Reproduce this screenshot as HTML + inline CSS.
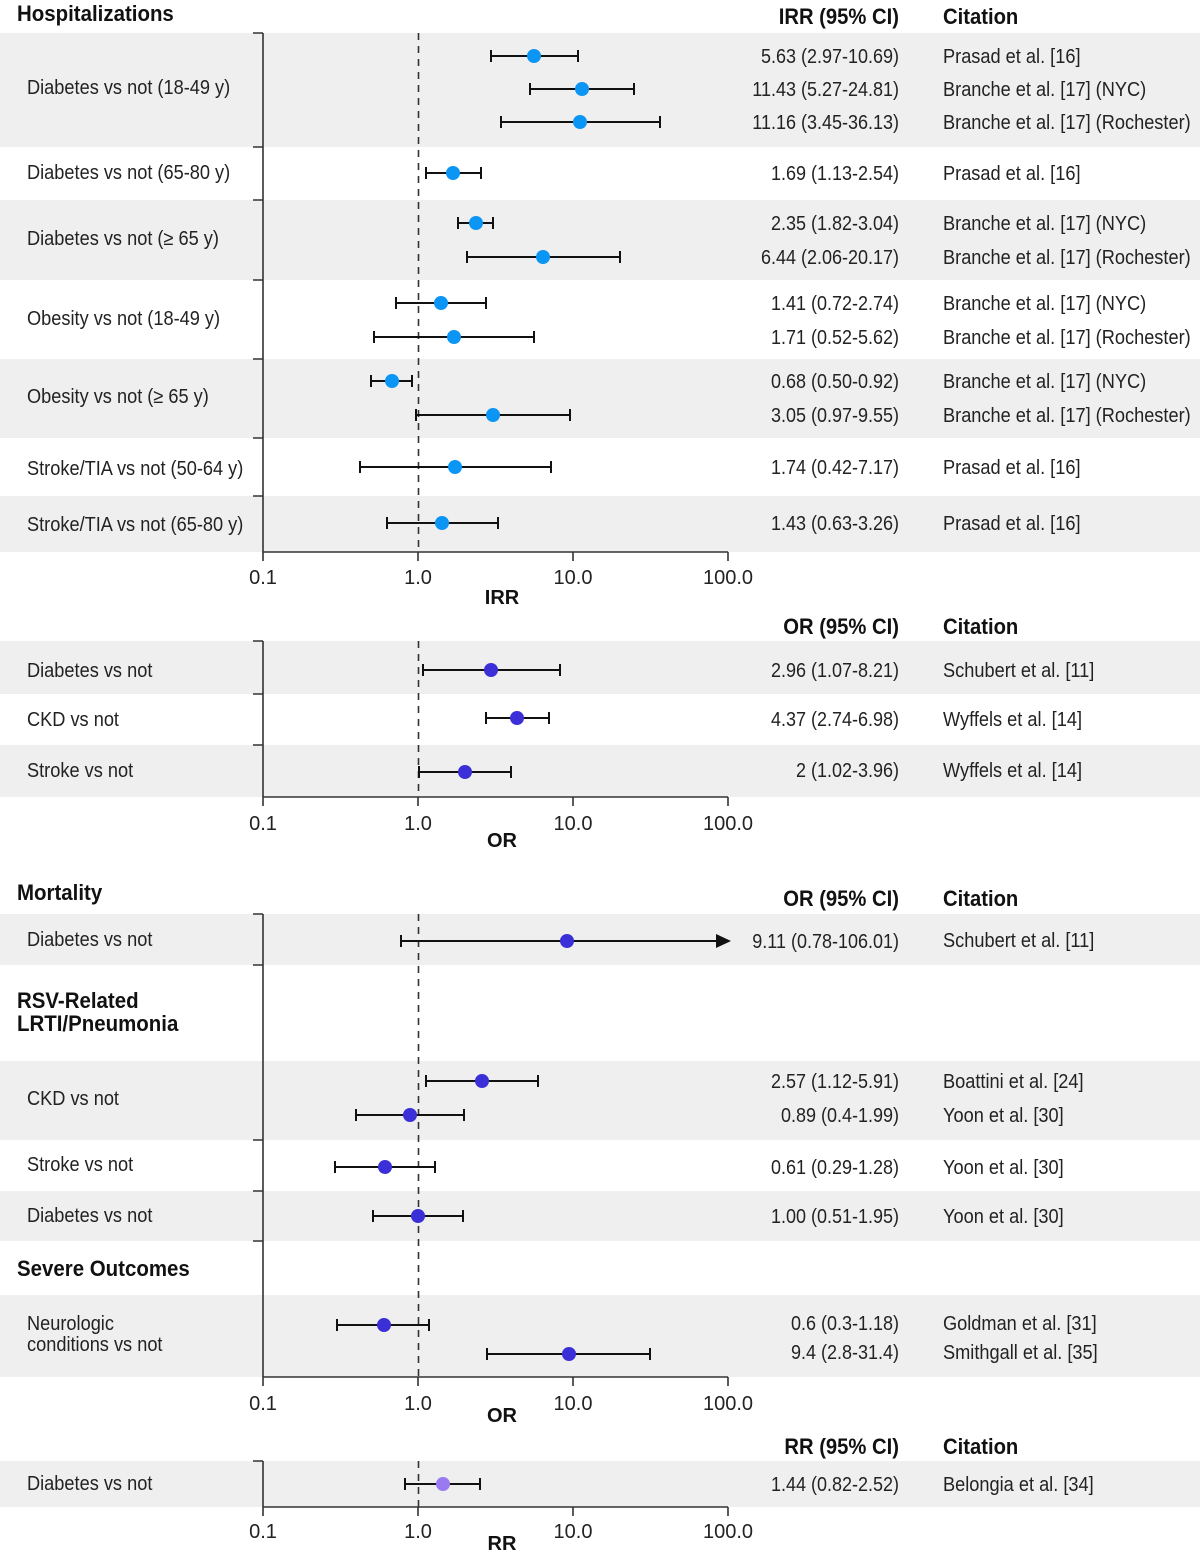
<!DOCTYPE html>
<html><head><meta charset="utf-8"><style>
html,body{margin:0;padding:0;background:#fff}
svg{display:block}
text{font-family:"Liberation Sans Narrow","Liberation Sans",sans-serif;font-size:20px;fill:#222}
.b{font-weight:bold;fill:#111;font-size:22px}
.r{text-anchor:end}
.m{text-anchor:middle}
.t{font-size:19px;fill:#333}
.eb{stroke:#111;stroke-width:2;fill:none}
.ax{stroke:#333;stroke-width:1.6;fill:none}
.d{stroke:#333;stroke-width:1.6;stroke-dasharray:7,6}
</style></head><body>
<svg width="1200" height="1557" viewBox="0 0 1200 1557" xmlns="http://www.w3.org/2000/svg">
<g fill="#efefef">
<rect x="0" y="33" width="1200" height="114"/>
<rect x="0" y="200" width="1200" height="80"/>
<rect x="0" y="359" width="1200" height="79"/>
<rect x="0" y="496" width="1200" height="56"/>
<rect x="0" y="641" width="1200" height="53"/>
<rect x="0" y="745" width="1200" height="52"/>
<rect x="0" y="914" width="1200" height="51"/>
<rect x="0" y="1061" width="1200" height="79"/>
<rect x="0" y="1191" width="1200" height="50"/>
<rect x="0" y="1295" width="1200" height="82"/>
<rect x="0" y="1461" width="1200" height="46"/>
</g>

<g transform="translate(17,0) scale(0.93,1)">
<text x="0" y="21" class="b">Hospitalizations</text>
<text x="0" y="900" class="b">Mortality</text>
<text x="0" y="1008" class="b">RSV-Related</text>
<text x="0" y="1031" class="b">LRTI/Pneumonia</text>
<text x="0" y="1276" class="b">Severe Outcomes</text>
</g>
<g transform="translate(899,0) scale(0.92,1)">
<text x="0" y="24" class="b r">IRR (95% CI)</text>
<text x="0" y="634" class="b r">OR (95% CI)</text>
<text x="0" y="906" class="b r">OR (95% CI)</text>
<text x="0" y="1454" class="b r">RR (95% CI)</text>
</g>
<g transform="translate(943,0) scale(0.92,1)">
<text x="0" y="24" class="b">Citation</text>
<text x="0" y="634" class="b">Citation</text>
<text x="0" y="906" class="b">Citation</text>
<text x="0" y="1454" class="b">Citation</text>
</g>

<g transform="translate(27,0) scale(0.91,1)">
<text x="0" y="94">Diabetes vs not (18-49 y)</text>
<text x="0" y="179">Diabetes vs not (65-80 y)</text>
<text x="0" y="245">Diabetes vs not (≥ 65 y)</text>
<text x="0" y="325">Obesity vs not (18-49 y)</text>
<text x="0" y="403">Obesity vs not (≥ 65 y)</text>
<text x="0" y="475">Stroke/TIA vs not (50-64 y)</text>
<text x="0" y="531">Stroke/TIA vs not (65-80 y)</text>
<text x="0" y="677">Diabetes vs not</text>
<text x="0" y="726">CKD vs not</text>
<text x="0" y="777">Stroke vs not</text>
<text x="0" y="946">Diabetes vs not</text>
<text x="0" y="1105">CKD vs not</text>
<text x="0" y="1171">Stroke vs not</text>
<text x="0" y="1222">Diabetes vs not</text>
<text x="0" y="1330">Neurologic</text>
<text x="0" y="1351">conditions vs not</text>
<text x="0" y="1490">Diabetes vs not</text>
</g>

<g transform="translate(899,0) scale(0.9,1)">
<text x="0" y="63" class="r">5.63 (2.97-10.69)</text>
<text x="0" y="96" class="r">11.43 (5.27-24.81)</text>
<text x="0" y="129" class="r">11.16 (3.45-36.13)</text>
<text x="0" y="180" class="r">1.69 (1.13-2.54)</text>
<text x="0" y="230" class="r">2.35 (1.82-3.04)</text>
<text x="0" y="264" class="r">6.44 (2.06-20.17)</text>
<text x="0" y="310" class="r">1.41 (0.72-2.74)</text>
<text x="0" y="344" class="r">1.71 (0.52-5.62)</text>
<text x="0" y="388" class="r">0.68 (0.50-0.92)</text>
<text x="0" y="422" class="r">3.05 (0.97-9.55)</text>
<text x="0" y="474" class="r">1.74 (0.42-7.17)</text>
<text x="0" y="530" class="r">1.43 (0.63-3.26)</text>
<text x="0" y="677" class="r">2.96 (1.07-8.21)</text>
<text x="0" y="726" class="r">4.37 (2.74-6.98)</text>
<text x="0" y="777" class="r">2 (1.02-3.96)</text>
<text x="0" y="948" class="r">9.11 (0.78-106.01)</text>
<text x="0" y="1088" class="r">2.57 (1.12-5.91)</text>
<text x="0" y="1122" class="r">0.89 (0.4-1.99)</text>
<text x="0" y="1174" class="r">0.61 (0.29-1.28)</text>
<text x="0" y="1223" class="r">1.00 (0.51-1.95)</text>
<text x="0" y="1330" class="r">0.6 (0.3-1.18)</text>
<text x="0" y="1359" class="r">9.4 (2.8-31.4)</text>
<text x="0" y="1491" class="r">1.44 (0.82-2.52)</text>
</g>

<g transform="translate(943,0) scale(0.91,1)">
<text x="0" y="63">Prasad et al. [16]</text>
<text x="0" y="96">Branche et al. [17] (NYC)</text>
<text x="0" y="129">Branche et al. [17] (Rochester)</text>
<text x="0" y="180">Prasad et al. [16]</text>
<text x="0" y="230">Branche et al. [17] (NYC)</text>
<text x="0" y="264">Branche et al. [17] (Rochester)</text>
<text x="0" y="310">Branche et al. [17] (NYC)</text>
<text x="0" y="344">Branche et al. [17] (Rochester)</text>
<text x="0" y="388">Branche et al. [17] (NYC)</text>
<text x="0" y="422">Branche et al. [17] (Rochester)</text>
<text x="0" y="474">Prasad et al. [16]</text>
<text x="0" y="530">Prasad et al. [16]</text>
<text x="0" y="677">Schubert et al. [11]</text>
<text x="0" y="726">Wyffels et al. [14]</text>
<text x="0" y="777">Wyffels et al. [14]</text>
<text x="0" y="947">Schubert et al. [11]</text>
<text x="0" y="1088">Boattini et al. [24]</text>
<text x="0" y="1122">Yoon et al. [30]</text>
<text x="0" y="1174">Yoon et al. [30]</text>
<text x="0" y="1223">Yoon et al. [30]</text>
<text x="0" y="1330">Goldman et al. [31]</text>
<text x="0" y="1359">Smithgall et al. [35]</text>
<text x="0" y="1491">Belongia et al. [34]</text>
</g>

<g class="ax">
<path d="M263 33V552H728 M253 33H263 M253 147H263 M253 200H263 M253 280H263 M253 359H263 M253 438H263 M253 496H263 M263 552V561 M418 552V561 M573 552V561 M728 552V561"/>
<path d="M263 641V797H728 M253 641H263 M253 694H263 M253 745H263 M263 797V806 M418 797V806 M573 797V806 M728 797V806"/>
<path d="M263 914V1377H728 M253 914H263 M253 965H263 M253 1140H263 M253 1191H263 M253 1241H263 M263 1377V1386 M418 1377V1386 M573 1377V1386 M728 1377V1386"/>
<path d="M263 1461V1507H728 M253 1461H263 M263 1507V1516 M418 1507V1516 M573 1507V1516 M728 1507V1516"/>
</g>
<g class="d">
<line x1="418.5" y1="33" x2="418.5" y2="552"/>
<line x1="418.5" y1="641" x2="418.5" y2="797"/>
<line x1="418.5" y1="914" x2="418.5" y2="1377"/>
<line x1="418.5" y1="1461" x2="418.5" y2="1507"/>
</g>
<g class="t m">
<text x="263" y="584">0.1</text><text x="418" y="584">1.0</text><text x="573" y="584">10.0</text><text x="728" y="584">100.0</text>
<text x="263" y="830">0.1</text><text x="418" y="830">1.0</text><text x="573" y="830">10.0</text><text x="728" y="830">100.0</text>
<text x="263" y="1410">0.1</text><text x="418" y="1410">1.0</text><text x="573" y="1410">10.0</text><text x="728" y="1410">100.0</text>
<text x="263" y="1538">0.1</text><text x="418" y="1538">1.0</text><text x="573" y="1538">10.0</text><text x="728" y="1538">100.0</text>
</g>
<text x="502" y="604" class="b m" style="font-size:20px">IRR</text>
<text x="502" y="847" class="b m" style="font-size:20px">OR</text>
<text x="502" y="1422" class="b m" style="font-size:20px">OR</text>
<text x="502" y="1550" class="b m" style="font-size:20px">RR</text>

<g class="eb">
<path d="M491 56H578M491 50V62M578 50V62"/>
<path d="M530 89H634M530 83V95M634 83V95"/>
<path d="M501 122H660M501 116V128M660 116V128"/>
<path d="M426 173H481M426 167V179M481 167V179"/>
<path d="M458 223H493M458 217V229M493 217V229"/>
<path d="M467 257H620M467 251V263M620 251V263"/>
<path d="M396 303H486M396 297V309M486 297V309"/>
<path d="M374 337H534M374 331V343M534 331V343"/>
<path d="M371 381H412M371 375V387M412 375V387"/>
<path d="M416 415H570M416 409V421M570 409V421"/>
<path d="M360 467H551M360 461V473M551 461V473"/>
<path d="M387 523H498M387 517V529M498 517V529"/>
<path d="M423 670H560M423 664V676M560 664V676"/>
<path d="M486 718H549M486 712V724M549 712V724"/>
<path d="M419 772H511M419 766V778M511 766V778"/>
<path d="M401 941H718M401 935V947"/>
<path d="M426 1081H538M426 1075V1087M538 1075V1087"/>
<path d="M356 1115H464M356 1109V1121M464 1109V1121"/>
<path d="M335 1167H435M335 1161V1173M435 1161V1173"/>
<path d="M373 1216H463M373 1210V1222M463 1210V1222"/>
<path d="M337 1325H429M337 1319V1331M429 1319V1331"/>
<path d="M487 1354H650M487 1348V1360M650 1348V1360"/>
<path d="M405 1484H480M405 1478V1490M480 1478V1490"/>
</g>
<polygon points="716,934 731,941 716,948" fill="#111"/>

<g fill="#0b95f4">
<circle cx="534" cy="56" r="7"/><circle cx="582" cy="89" r="7"/><circle cx="580" cy="122" r="7"/>
<circle cx="453" cy="173" r="7"/><circle cx="476" cy="223" r="7"/><circle cx="543" cy="257" r="7"/>
<circle cx="441" cy="303" r="7"/><circle cx="454" cy="337" r="7"/><circle cx="392" cy="381" r="7"/>
<circle cx="493" cy="415" r="7"/><circle cx="455" cy="467" r="7"/><circle cx="442" cy="523" r="7"/>
</g>
<g fill="#3b30d8">
<circle cx="491" cy="670" r="7"/><circle cx="517" cy="718" r="7"/><circle cx="465" cy="772" r="7"/>
<circle cx="567" cy="941" r="7"/><circle cx="482" cy="1081" r="7"/><circle cx="410" cy="1115" r="7"/>
<circle cx="385" cy="1167" r="7"/><circle cx="418" cy="1216" r="7"/><circle cx="384" cy="1325" r="7"/>
<circle cx="569" cy="1354" r="7"/>
</g>
<circle cx="443" cy="1484" r="7" fill="#9a7af0"/>
</svg>
</body></html>
